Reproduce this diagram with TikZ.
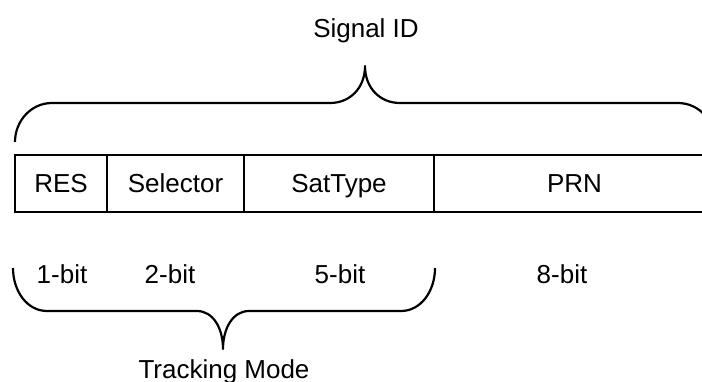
\documentclass[tikz,border=0pt]{standalone}
\usepackage{fontspec}
\setmainfont{Liberation Sans}
\begin{document}
\begin{tikzpicture}[x=1pt,y=-1pt,
  txt/.style={font=\fontsize{26}{30}\selectfont,text height=18.6pt,text depth=0pt},
  field/.style={txt,draw,line width=1.8pt,inner sep=0pt,outer sep=0pt,minimum height=57pt,anchor=north west},
  lbl/.style={txt,inner sep=0pt},
  brace/.style={line width=2.2pt,line join=round}]
\useasboundingbox (0,0) rectangle (702,381);
\clip (0,0) rectangle (702,381);
\node[field,minimum width=92pt] (res) at (15,155) {RES};
\node[field,minimum width=137pt] (sel) at (107,155) {Selector};
\node[field,minimum width=190pt] (sat) at (244,155) {SatType};
\node[field,minimum width=281pt] (prn) at (434,155) {PRN};
\node[lbl] (sid) at (366,28) {Signal ID};
\node[lbl] (b1) at (62,274) {1-bit};
\node[lbl] (b2) at (170,274) {2-bit};
\node[lbl] (b5) at (340,274) {5-bit};
\node[lbl] (b8) at (562,274) {8-bit};
\node[lbl] (tm) at (224,369) {Tracking Mode};
% top brace
\coordinate (tl) at (15,142);
\coordinate (tc) at (365,66);
\coordinate (tr) at (715,142);
\draw[brace] (tl) .. controls (15,121) and (31,103) .. (52,103) -- (330,103)
  .. controls (350,103) and (365,88) .. (tc)
  .. controls (365,88) and (380,103) .. (400,103) -- (678,103)
  .. controls (699,103) and (715,121) .. (tr);
% bottom brace
\coordinate (bl) at (13,268);
\coordinate (bc) at (223,349);
\coordinate (br) at (435,268);
\draw[brace] (bl) .. controls (13,291) and (27,311) .. (47,311) -- (197,311)
  .. controls (213,311) and (223,328) .. (bc)
  .. controls (223,328) and (233,311) .. (249,311) -- (401,311)
  .. controls (421,311) and (435,291) .. (br);
\end{tikzpicture}
\end{document}
